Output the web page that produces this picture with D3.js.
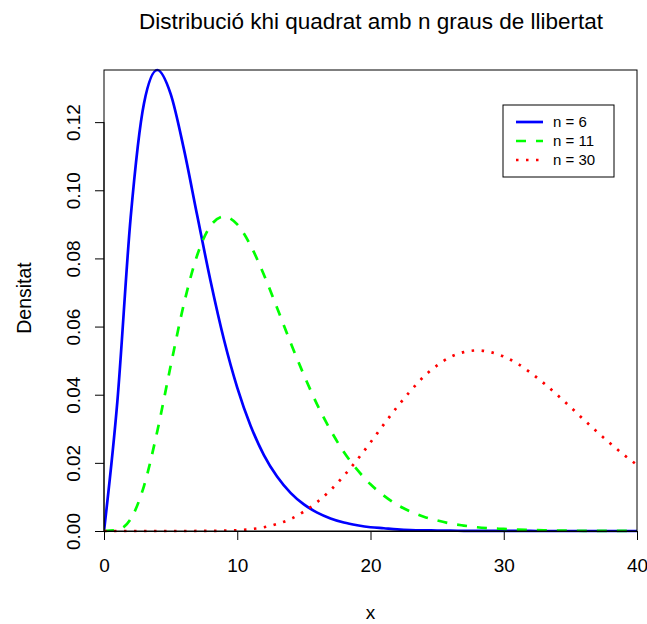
<!DOCTYPE html>
<html>
<head>
<meta charset="utf-8">
<script src="https://cdn.jsdelivr.net/npm/d3@7"></script>
<style>
  body { margin: 0; background: #fff; }
  svg { font-family: "Liberation Sans", Arial, sans-serif; }
</style>
</head>
<body>
<svg id="chart"></svg>
<script>
// punts x (0..40) i densitats llegides del gràfic
const xs = [0,1,2,3,4,5,6,7,8,9,10,11,12,13,14,15,16,17,18,19,20,
  21,22,23,24,25,26,27,28,29,30,31,32,33,34,35,36,37,38,39,40];

const dens6 = [0,0.0379,0.0920,0.1255,0.1353,0.1283,0.1120,0.0925,0.0733,0.0562,0.0421,
  0.0309,0.0223,0.0159,0.0112,0.0078,0.0054,0.0037,0.0025,0.0017,0.0011,
  0.0008,0.0005,0.0003,0.0002,0.00015,0.0001,0.00006,0.00004,0.00003,0.00002,
  0.00001,0.00001,0,0,0,0,0,0,0,0];

const dens11 = [0,0.0003,0.0035,0.0132,0.0293,0.0484,0.0667,0.0810,0.0896,0.0923,0.0900,
  0.0838,0.0752,0.0654,0.0553,0.0458,0.0371,0.0296,0.0232,0.0180,0.0137,
  0.0104,0.0077,0.0057,0.0042,0.0031,0.0022,0.0016,0.0011,0.0008,0.0006,
  0.0004,0.0003,0.0002,0.00014,0.0001,0.00006,0.00004,0.00003,0.00002,0.00001];

const dens30 = [0,0,0,0,0,0,0,0.00001,0.00003,0.00009,0.00024,
  0.00054,0.0011,0.0021,0.0035,0.0057,0.0085,0.0120,0.0162,0.0209,0.0260,
  0.0313,0.0364,0.0411,0.0453,0.0486,0.0511,0.0525,0.0530,0.0525,0.0512,
  0.0492,0.0465,0.0434,0.0400,0.0364,0.0327,0.0291,0.0257,0.0224,0.0194];

const xTicks = [0, 10, 20, 30, 40];
const yTicks = [0, 0.02, 0.04, 0.06, 0.08, 0.10, 0.12];

const series = [
  { label: "n = 6",  values: dens6,  color: "#0000ff", dash: null },
  { label: "n = 11", values: dens11, color: "#00ff00", dash: "10,10" },
  { label: "n = 30", values: dens30, color: "#ff0000", dash: "2.5,7.5" }
];

const W = 647, H = 624;
const margin = {top: 70, right: 10, bottom: 93, left: 104};
const width = W - margin.left - margin.right;
const height = H - margin.top - margin.bottom;

const svg = d3.select("#chart").attr("width", W).attr("height", H);

const x = d3.scaleLinear().domain([0, 40]).range([0, width]);
const y = d3.scaleLinear().domain([0, 0.1353]).range([height, 0]);

const g = svg.append("g")
  .attr("transform", "translate(" + margin.left + "," + margin.top + ")");

// corbes
g.append("clipPath").attr("id", "clip")
  .append("rect").attr("x", 0).attr("y", -2).attr("width", width).attr("height", height + 4);

series.forEach(s => {
  const line = d3.line()
    .x((d, i) => x(xs[i]))
    .y(d => y(d))
    .curve(d3.curveMonotoneX);
  g.append("path")
    .datum(s.values)
    .attr("clip-path", "url(#clip)")
    .attr("fill", "none")
    .attr("stroke", s.color)
    .attr("stroke-width", 2.7)
    .attr("stroke-dasharray", s.dash)
    .attr("d", line);
});

// marc
g.append("rect")
  .attr("width", width).attr("height", height)
  .attr("fill", "none").attr("stroke", "#000").attr("stroke-width", 1);

// eix x
const xAxis = g.append("g")
  .attr("transform", "translate(0," + height + ")")
  .call(d3.axisBottom(x).tickValues(xTicks).tickSize(9).tickPadding(19).tickFormat(d3.format("d")));
xAxis.selectAll("text").attr("font-size", 19).attr("fill", "#000").attr("font-family", null);
xAxis.selectAll("line,path").attr("stroke", "#000");

// eix y
const yAxis = g.append("g")
  .call(d3.axisLeft(y).tickValues(yTicks).tickSize(9).tickFormat(d3.format(".2f")));
yAxis.select(".domain").attr("d", "M0," + y(0) + "V" + y(0.12));
yAxis.selectAll("line,path").attr("stroke", "#000");
yAxis.selectAll("text")
  .attr("font-size", 19).attr("fill", "#000").attr("font-family", null)
  .attr("x", null).attr("dy", null)
  .attr("text-anchor", "middle")
  .attr("transform", "translate(-24,0) rotate(-90)");

// títols
svg.append("text")
  .attr("x", 371).attr("y", 29)
  .attr("text-anchor", "middle").attr("font-size", 22.5)
  .text("Distribució khi quadrat amb n graus de llibertat");

svg.append("text")
  .attr("x", margin.left + width / 2).attr("y", 619)
  .attr("text-anchor", "middle").attr("font-size", 19)
  .text("x");

svg.append("text")
  .attr("transform", "translate(31,298) rotate(-90)")
  .attr("text-anchor", "middle").attr("font-size", 19.5)
  .text("Densitat");

// llegenda
const leg = svg.append("g").attr("transform", "translate(503,105)");
leg.append("rect")
  .attr("width", 111).attr("height", 72)
  .attr("fill", "#fff").attr("stroke", "#000").attr("stroke-width", 1);
series.forEach((s, i) => {
  const yy = 17 + i * 19;
  leg.append("line")
    .attr("x1", 13).attr("x2", 40).attr("y1", yy).attr("y2", yy)
    .attr("stroke", s.color).attr("stroke-width", 2.7)
    .attr("stroke-dasharray", s.dash);
  leg.append("text")
    .attr("x", 50).attr("y", yy).attr("dy", "0.35em")
    .attr("font-size", 15)
    .text(s.label);
});
</script>
</body>
</html>
